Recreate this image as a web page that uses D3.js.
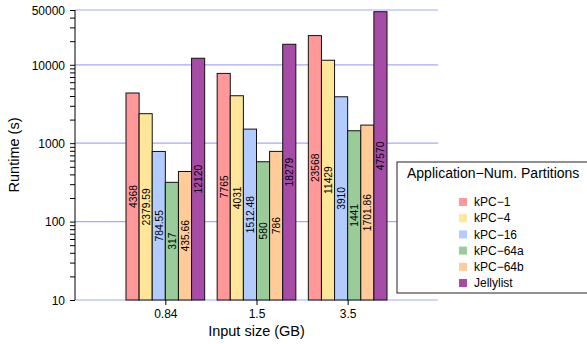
<!DOCTYPE html>
<html>
<head>
<meta charset="utf-8">
<script src="https://cdn.jsdelivr.net/npm/d3@7"></script>
<style>
  body { margin: 0; background: #fff; }
  svg { font-family: "Liberation Sans", Arial, sans-serif; }
</style>
</head>
<body>
<script>
// data
const sizes = ['0.84', '1.5', '3.5'];
const series = ['kPC−1', 'kPC−4', 'kPC−16', 'kPC−64a', 'kPC−64b', 'Jellylist'];
const colors = ['#ff9999', '#ffe699', '#b3ccff', '#99cc99', '#ffcc99', '#a64ca6'];
const values = [
  [4368, 2379.59, 784.55, 317, 435.66, 12120],
  [7765, 4031, 1512.48, 580, 786, 18279],
  [23568, 11429, 3910, 1441, 1701.86, 47570]
];
const labels = [
  ['4368', '2379.59', '784.55', '317', '435.66', '12120'],
  ['7765', '4031', '1512.48', '580', '786', '18279'],
  ['23568', '11429', '3910', '1441', '1701.86', '47570']
];
const majorTicks = [10, 100, 1000, 10000, 50000];

const width = 587, height = 344;
const margin = {top: 10, right: 149, bottom: 44, left: 75};

const svg = d3.select('body').append('svg')
  .attr('width', width)
  .attr('height', height);

// scales
const x = d3.scaleBand()
  .domain(sizes)
  .range([126, 387])
  .paddingInner(0.137)
  .paddingOuter(0);

const y = d3.scaleLog()
  .domain([10, 50000])
  .range([height - margin.bottom, margin.top]);

const xs = d3.scaleBand()
  .domain(series)
  .range([0, x.bandwidth()]);

// grid lines
svg.append('g')
  .selectAll('line')
  .data(majorTicks)
  .join('line')
  .attr('x1', margin.left)
  .attr('x2', width - margin.right)
  .attr('y1', d => y(d))
  .attr('y2', d => y(d))
  .attr('stroke', '#a8a8ff')
  .attr('stroke-width', 1.2);

// minor ticks
let minor = [];
for (let e = 1; e <= 4; e++) {
  for (let k = 2; k <= 9; k++) {
    const v = k * Math.pow(10, e);
    if (v < 50000) minor.push(v);
  }
}

// y axis
svg.append('g')
  .attr('transform', `translate(${margin.left},0)`)
  .call(d3.axisLeft(y).tickValues(majorTicks.concat(minor)).tickSize(5)
    .tickFormat(d => majorTicks.includes(d) ? d : ''))
  .call(g => g.select('.domain').attr('d', `M-0,${y(50000)}V${y(10)}`))
  .call(g => g.selectAll('text').style('font-size', '12px').attr('fill', '#000').attr('dy', '0.35em').attr('x', -10));

// bars
const groups = svg.append('g')
  .selectAll('g')
  .data(values)
  .join('g')
  .attr('transform', (d, i) => `translate(${x(sizes[i])},0)`);

groups.each(function (row, i) {
  const g = d3.select(this);
  g.selectAll('rect')
    .data(row)
    .join('rect')
    .attr('x', (d, j) => xs(series[j]))
    .attr('y', d => y(d))
    .attr('width', xs.bandwidth())
    .attr('height', d => y(10) - y(d))
    .attr('fill', (d, j) => colors[j])
    .attr('stroke', '#111')
    .attr('stroke-width', 1);

  g.selectAll('text')
    .data(row)
    .join('text')
    .attr('transform', (d, j) =>
      `translate(${xs(series[j]) + xs.bandwidth() / 2 + 4},${(y(d) + y(10)) / 2}) rotate(-90)`)
    .attr('text-anchor', 'middle')
    .style('font-size', '10.3px')
    .text((d, j) => labels[i][j]);
});

// x axis ticks
svg.append('g')
  .attr('transform', `translate(0,${y(10)})`)
  .call(d3.axisBottom(d3.scalePoint().domain(sizes).range([x('0.84') + x.bandwidth() / 2, x('3.5') + x.bandwidth() / 2])).tickSize(5))
  .call(g => g.select('.domain').remove())
  .call(g => g.selectAll('text').style('font-size', '12px').attr('fill', '#000').attr('dy', '0.85em'));

// axis titles
svg.append('text')
  .attr('transform', `translate(19,${(y(10) + y(50000)) / 2}) rotate(-90)`)
  .attr('text-anchor', 'middle')
  .style('font-size', '14.5px')
  .text('Runtime (s)');

svg.append('text')
  .attr('x', x('1.5') + x.bandwidth() / 2)
  .attr('y', 336)
  .attr('text-anchor', 'middle')
  .style('font-size', '14.5px')
  .text('Input size (GB)');

// legend
const legend = svg.append('g').attr('transform', 'translate(397,162)');
legend.append('rect')
  .attr('width', 195)
  .attr('height', 131)
  .attr('fill', '#fff')
  .attr('stroke', '#222')
  .attr('stroke-width', 1);
legend.append('text')
  .attr('x', 10)
  .attr('y', 16)
  .style('font-size', '14px')
  .text('Application−Num. Partitions');
const items = legend.selectAll('.item')
  .data(series)
  .join('g')
  .attr('class', 'item')
  .attr('transform', (d, i) => `translate(62,${40 + i * 16.2})`);
items.append('rect')
  .attr('y', -4)
  .attr('width', 8)
  .attr('height', 8)
  .attr('fill', (d, i) => colors[i]);
items.append('text')
  .attr('x', 15)
  .attr('dy', '0.35em')
  .style('font-size', '12px')
  .text(d => d);
</script>
</body>
</html>
